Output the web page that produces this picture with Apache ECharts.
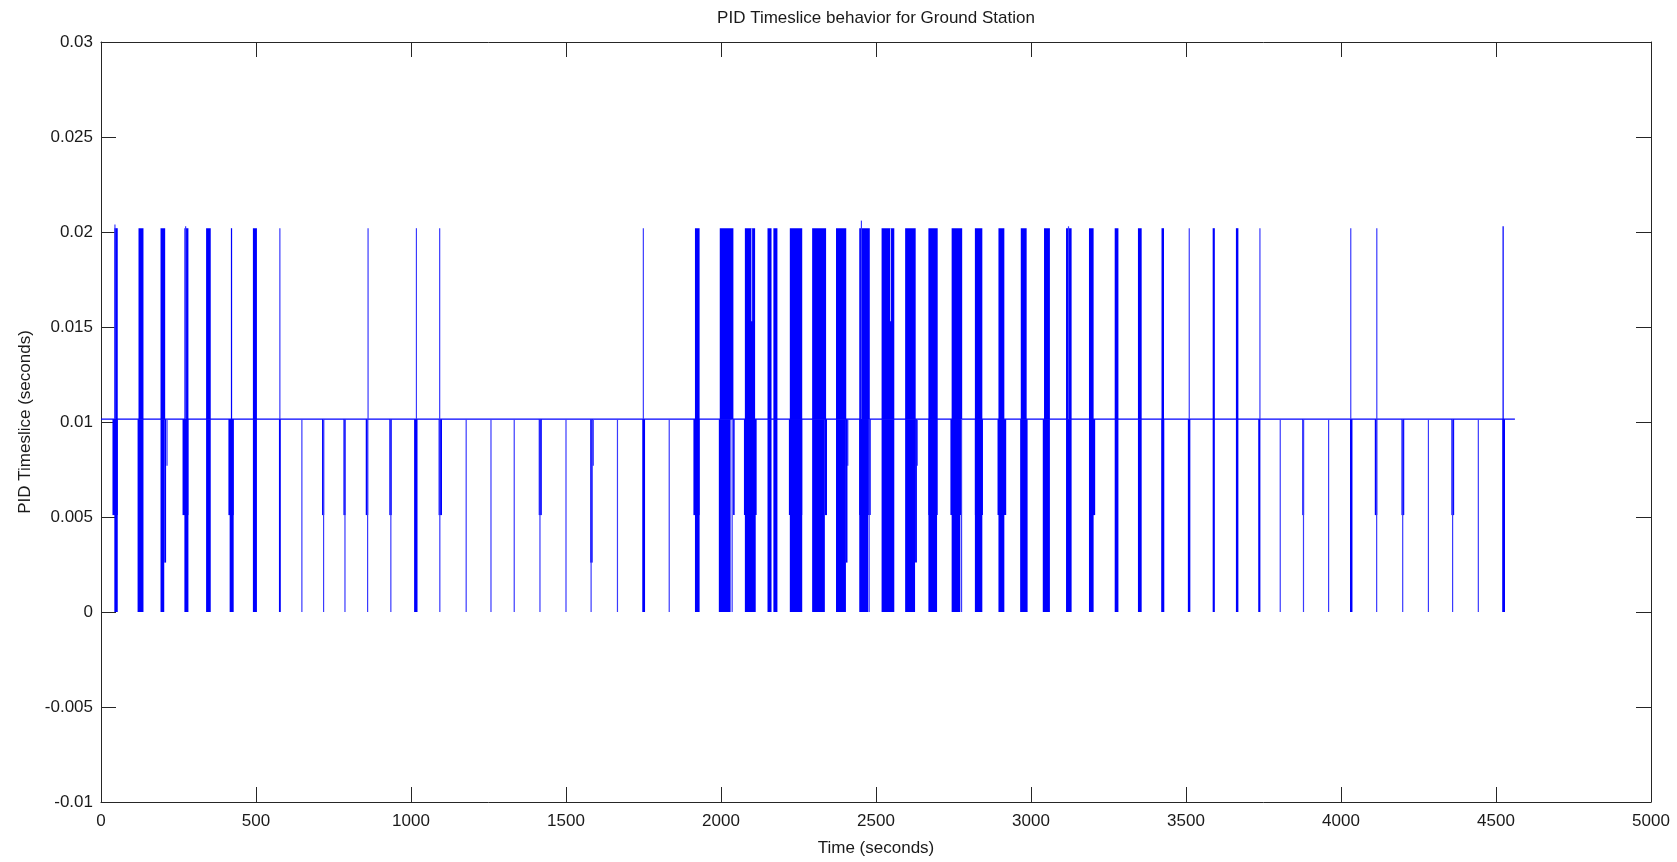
<!DOCTYPE html>
<html>
<head>
<meta charset="utf-8">
<script src="https://cdn.jsdelivr.net/npm/echarts@6/dist/echarts.min.js"></script>
<style>
html,body{margin:0;padding:0;background:#fff;}
#chart{width:1677px;height:862px;}
</style>
</head>
<body>
<div id="chart"></div>
<script>
// ---- data ----
const xTicks = [0, 500, 1000, 1500, 2000, 2500, 3000, 3500, 4000, 4500, 5000];
const yTicks = [-0.01, -0.005, 0, 0.005, 0.01, 0.015, 0.02, 0.025, 0.03];

const baseLevel = 0.01015;      // normal timeslice level
const halfLevel = 0.0051;       // partial drop level
const quarterLevel = 0.0026;
const threeQuarterLevel = 0.0077;
const baselineRange = [0, 4561];

// spikes going up from the baseline: [tStart, tEnd, peak]
const upSpikes = [
  [43,54,0.0202],[44,46,0.0204],
  [121,137,0.0202],
  [192,207,0.0202],
  [269,282,0.0202],[272,274,0.0203],
  [339,354,0.0202],
  [419,423,0.0202],
  [490,503,0.0202],
  [576,578,0.0202],
  [861,862,0.0202],
  [1017,1018,0.0202],
  [1091,1094,0.0202],
  [1749,1750,0.0202],
  [1916,1931,0.0202],
  [1996,2040,0.0202],
  [2077,2110,0.0202],
  [2150,2163,0.0202],[2169,2182,0.0202],
  [2222,2262,0.0202],
  [2294,2339,0.0202],
  [2371,2404,0.0202],
  [2446,2480,0.0202],[2452,2454,0.0206],
  [2518,2559,0.0202],
  [2594,2628,0.0202],
  [2669,2699,0.0202],
  [2744,2778,0.0202],
  [2819,2843,0.0202],
  [2895,2914,0.0202],
  [2967,2986,0.0202],
  [3042,3061,0.0202],
  [3113,3131,0.0202],[3120,3122,0.0203],
  [3187,3202,0.0202],
  [3270,3282,0.0202],
  [3345,3357,0.0202],
  [3421,3429,0.0202],
  [3509,3512,0.0202],
  [3586,3593,0.0202],
  [3661,3669,0.0202],
  [3737,3740,0.0202],
  [4030,4033,0.0202],
  [4114,4117,0.0202],
  [4521,4525,0.0203]
];

// drops from the baseline to 0: [tStart, tEnd]
const dropsToZero = [
  [43,54],[118,137],[192,204],[269,282],[339,354],[415,428],[490,503],[574,580],
  [648,648],[718,718],[787,787],[860,860],[935,935],[1010,1021],[1093,1093],
  [1178,1178],[1258,1258],[1333,1333],[1416,1416],[1500,1500],[1581,1581],
  [1666,1666],[1746,1755],[1833,1833],[1916,1931],[1993,2031],[2036,2036],
  [2077,2112],[2150,2163],[2169,2182],[2222,2262],[2294,2335],[2371,2403],
  [2446,2475],[2478,2478],[2518,2559],[2594,2626],[2669,2697],[2744,2772],
  [2776,2776],[2819,2843],[2895,2914],[2965,2989],[3038,3061],[3113,3131],
  [3187,3202],[3270,3282],[3345,3357],[3420,3430],[3506,3514],[3586,3593],
  [3661,3669],[3733,3740],[3804,3804],[3879,3879],[3960,3960],[4029,4037],
  [4115,4115],[4199,4199],[4282,4282],[4360,4360],[4443,4443],[4520,4529]
];

// drops from the baseline to ~0.005
const dropsToHalf = [
  [37,54],[263,282],[411,428],[713,720],[782,789],[854,862],[930,938],
  [1089,1100],[1412,1422],[1911,1931],[2039,2044],[2074,2115],[2219,2262],
  [2335,2342],[2446,2483],[2669,2699],[2740,2776],[2819,2845],[2892,2920],
  [3187,3207],[3875,3881],[4109,4117],[4195,4204],[4356,4365]
];

// drops from the baseline to ~0.0026 and ~0.0077
const dropsToQuarter = [[204,210],[1578,1586],[2403,2408],[2626,2632]];
const dropsToThreeQuarter = [[212,214],[1588,1588],[2409,2409],[2633,2633]];

// thin gaps inside dense blocks: [t, low, high]
const gaps = [[2099,0.0153,0.0202],[2547,0.0153,0.0202]];

// ---- build tables for the library ----
const segRows = [];
upSpikes.forEach(s => segRows.push([s[0], s[1], baseLevel, s[2]]));
dropsToHalf.forEach(s => segRows.push([s[0], s[1], halfLevel, baseLevel]));
dropsToThreeQuarter.forEach(s => segRows.push([s[0], s[1], threeQuarterLevel, baseLevel]));
dropsToQuarter.forEach(s => segRows.push([s[0], s[1], quarterLevel, baseLevel]));
dropsToZero.forEach(s => segRows.push([s[0], s[1], 0, baseLevel]));
const gapRows = gaps.map(g => [g[0], g[0], g[1], g[2]]);

function makeRender(color, thinColor, minW) {
  return function (params, api) {
    const x0 = api.value(0), x1 = api.value(1), y0 = api.value(2), y1 = api.value(3);
    const a = api.coord([x0, y1]);
    const b = api.coord([x1, y0]);
    let x = a[0], w = b[0] - a[0];
    let fill = color;
    if (w < minW) { x = (a[0] + b[0]) / 2 - minW / 2; w = minW; fill = thinColor; }
    return {
      type: 'rect',
      shape: { x: x, y: a[1], width: w, height: b[1] - a[1] },
      style: { fill: fill }
    };
  };
}

const FONT = '"Liberation Sans", Arial, Helvetica, sans-serif';
const TXT = '#1a1a1a';
const AXC = '#262626';

const chart = echarts.init(document.getElementById('chart'), null, { renderer: 'canvas' });

const xBase = {
  type: 'value', min: xTicks[0], max: xTicks[xTicks.length - 1], interval: xTicks[1] - xTicks[0],
  splitLine: { show: false },
  axisLine: { show: true, onZero: false, lineStyle: { color: AXC, width: 1 } },
  axisTick: { show: true, inside: true, length: 15, lineStyle: { color: AXC } }
};
const yBase = {
  type: 'value', min: yTicks[0], max: yTicks[yTicks.length - 1], interval: yTicks[1] - yTicks[0],
  splitLine: { show: false },
  axisLine: { show: true, onZero: false, lineStyle: { color: AXC, width: 1 } },
  axisTick: { show: true, inside: true, length: 15, lineStyle: { color: AXC } }
};

chart.setOption({
  animation: false,
  backgroundColor: '#ffffff',
  grid: { left: 101, right: 26, top: 42, bottom: 60, containLabel: false },
  graphic: [{
    type: 'text', x: 876, y: 18,
    style: {
      text: 'PID Timeslice behavior for Ground Station',
      fill: TXT, font: '17px ' + FONT, textAlign: 'center', textVerticalAlign: 'middle'
    }
  }],
  xAxis: [
    Object.assign({}, xBase, {
      position: 'bottom',
      name: 'Time (seconds)', nameLocation: 'middle', nameGap: 38,
      nameTextStyle: { color: TXT, fontSize: 17, fontFamily: FONT },
      axisLabel: {
        color: TXT, fontSize: 17, fontFamily: FONT, margin: 11,
        formatter: v => String(Math.round(v))
      }
    }),
    Object.assign({}, xBase, { position: 'top', axisLabel: { show: false } })
  ],
  yAxis: [
    Object.assign({}, yBase, {
      position: 'left',
      name: 'PID Timeslice (seconds)', nameLocation: 'middle', nameGap: 66,
      nameTextStyle: { color: TXT, fontSize: 17, fontFamily: FONT },
      axisLabel: {
        color: TXT, fontSize: 17, fontFamily: FONT, margin: 8,
        formatter: v => String(+(+v).toFixed(3))
      }
    }),
    Object.assign({}, yBase, { position: 'right', axisLabel: { show: false } })
  ],
  series: [
    {
      type: 'line', xAxisIndex: 0, yAxisIndex: 0,
      data: [[baselineRange[0], baseLevel], [baselineRange[1], baseLevel]],
      showSymbol: false, symbol: 'none',
      lineStyle: { color: '#0000ff', width: 1.3 }, z: 3
    },
    {
      type: 'custom', xAxisIndex: 0, yAxisIndex: 0,
      data: segRows, encode: { x: [0, 1], y: [2, 3] },
      renderItem: makeRender('#0000ff', '#3a3aff', 1.2), z: 4
    },
    {
      type: 'custom', xAxisIndex: 0, yAxisIndex: 0,
      data: gapRows, encode: { x: [0, 1], y: [2, 3] },
      renderItem: makeRender('#c8c8ff', '#c8c8ff', 0.9), z: 5
    }
  ]
});
</script>
</body>
</html>
